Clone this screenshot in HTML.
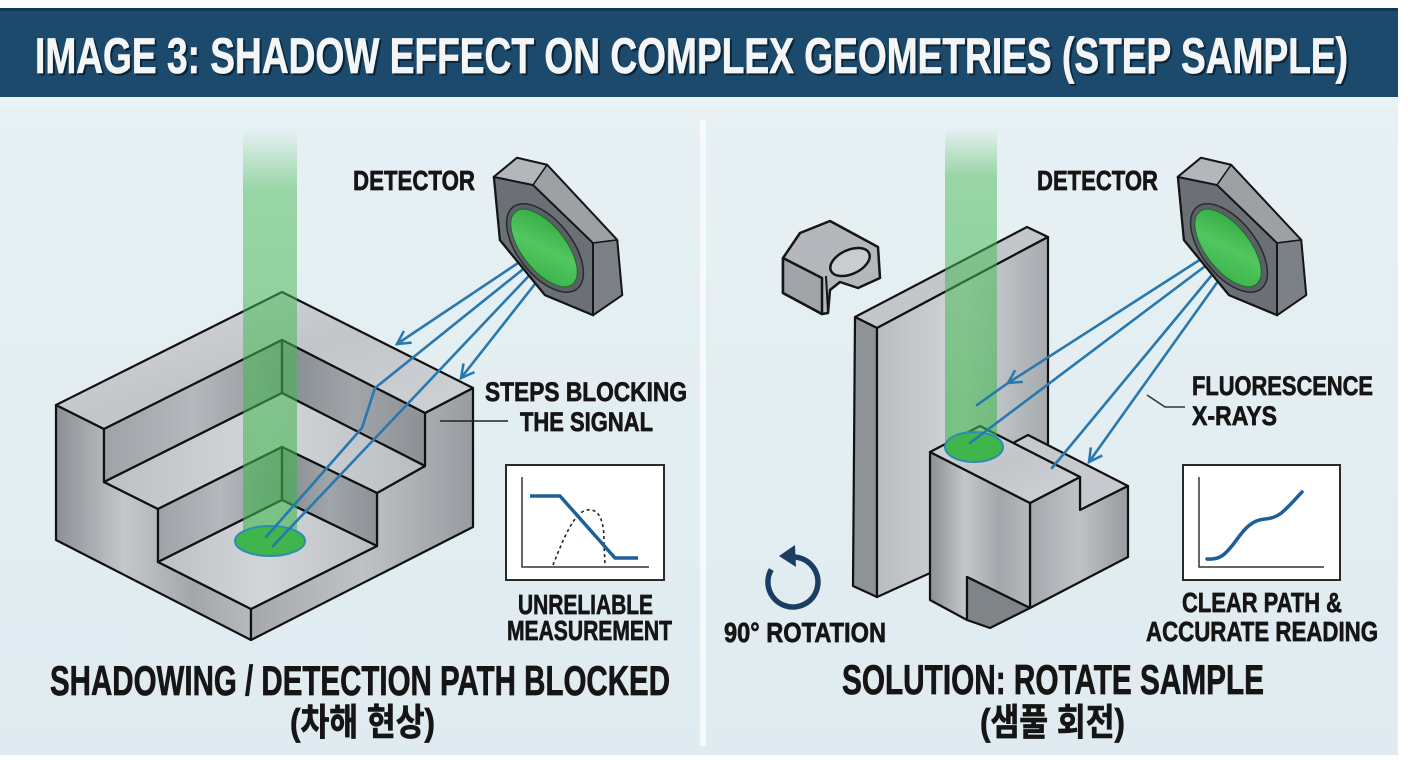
<!DOCTYPE html>
<html><head><meta charset="utf-8">
<style>
html,body{margin:0;padding:0;background:#fff;}
svg{display:block;}
.t{font-family:"Liberation Sans Narrow","Liberation Sans","Noto Sans CJK KR",sans-serif;font-weight:700;fill:#151515;stroke:#151515;stroke-width:0.7px;}
</style></head>
<body>
<svg width="1408" height="768" viewBox="0 0 1408 768" xmlns="http://www.w3.org/2000/svg">
<defs>
  <linearGradient id="panel" x1="0" y1="0" x2="0" y2="1">
    <stop offset="0" stop-color="#e7f1f4"/><stop offset="1" stop-color="#dfebf0"/>
  </linearGradient>
  <linearGradient id="beam" x1="0" y1="0" x2="0" y2="1">
    <stop offset="0" stop-color="#4cbb5a" stop-opacity="0"/>
    <stop offset="0.15" stop-color="#4cbb5a" stop-opacity="0.5"/>
    <stop offset="1" stop-color="#3cb44c" stop-opacity="0.6"/>
  </linearGradient>
  <linearGradient id="gTop" x1="0" y1="0" x2="1" y2="1">
    <stop offset="0" stop-color="#d6d9dc"/><stop offset="0.5" stop-color="#c2c6ca"/><stop offset="1" stop-color="#d0d3d6"/>
  </linearGradient>
  <linearGradient id="gWallL" x1="0" y1="0" x2="1" y2="0">
    <stop offset="0" stop-color="#9ea3a8"/><stop offset="0.5" stop-color="#b4b8bc"/><stop offset="1" stop-color="#92979c"/>
  </linearGradient>
  <linearGradient id="gWallR" x1="0" y1="0" x2="1" y2="0">
    <stop offset="0" stop-color="#868b90"/><stop offset="0.5" stop-color="#a0a5a9"/><stop offset="1" stop-color="#8c9196"/>
  </linearGradient>
  <linearGradient id="gFloor" x1="0" y1="0" x2="1" y2="0">
    <stop offset="0" stop-color="#bcc0c4"/><stop offset="0.5" stop-color="#d3d6d9"/><stop offset="1" stop-color="#b9bdc1"/>
  </linearGradient>
  <linearGradient id="gOutL" x1="0" y1="0" x2="1" y2="0">
    <stop offset="0" stop-color="#8b9095"/><stop offset="0.35" stop-color="#c4c7ca"/><stop offset="0.7" stop-color="#a3a7ab"/><stop offset="1" stop-color="#b6babd"/>
  </linearGradient>
  <linearGradient id="gOutR" x1="0" y1="0" x2="1" y2="0">
    <stop offset="0" stop-color="#a5a9ad"/><stop offset="0.5" stop-color="#bfc2c5"/><stop offset="1" stop-color="#979ca0"/>
  </linearGradient>
  <linearGradient id="gSlab" x1="0" y1="0" x2="1" y2="0">
    <stop offset="0" stop-color="#b9bdc1"/><stop offset="0.5" stop-color="#d2d5d8"/><stop offset="1" stop-color="#a5aaae"/>
  </linearGradient>
  <linearGradient id="gLens" x1="0" y1="0" x2="1" y2="1">
    <stop offset="0" stop-color="#2fa43f"/><stop offset="0.5" stop-color="#52c760"/><stop offset="1" stop-color="#36ae46"/>
  </linearGradient>
  <marker id="ah" markerWidth="18" markerHeight="18" refX="15" refY="9" orient="auto" markerUnits="userSpaceOnUse">
    <path d="M2,2 L15,9 L2,16" fill="none" stroke="#2878b0" stroke-width="2.5"/>
  </marker>
  <g id="det">
    <polygon points="494,177 517,158 547,165 617,240 622,295 593,315 545,295 500,240" fill="#8a9096" stroke="#151515" stroke-width="2.5" stroke-linejoin="round"/>
    <polygon points="494,177 517,158 547,165 533,185" fill="#b3b7bb" stroke="#151515" stroke-width="1.5"/>
    <polygon points="533,185 547,165 617,240 593,243" fill="#9ca1a6" stroke="#151515" stroke-width="1.5"/>
    <polygon points="593,243 617,240 622,295 593,315" fill="#7b8186" stroke="#151515" stroke-width="1.5"/>
    <polygon points="494,177 533,185 593,243 593,315 545,295 500,240" fill="#6a7075" stroke="#151515" stroke-width="2"/>
    <ellipse cx="545" cy="248" rx="52" ry="27" transform="rotate(52 545 248)" fill="#5a6065" stroke="#2a2a2a" stroke-width="1.5"/>
    <ellipse cx="544" cy="248" rx="46" ry="22" transform="rotate(52 544 248)" fill="url(#gLens)" stroke="#1f6b2a" stroke-width="1"/>
  </g>
</defs>

<!-- backgrounds -->
<rect x="0" y="0" width="1408" height="768" fill="#ffffff"/>
<rect x="0" y="97" width="1398" height="658" fill="url(#panel)"/>
<rect x="0" y="97" width="1398" height="10" fill="#eaf3f6"/>
<rect x="0" y="8" width="1398" height="89" fill="#1c4a6c"/>
<rect x="0" y="8" width="1398" height="3" fill="#123853"/>
<text class="t" x="37" y="75" font-size="50" textLength="1313" lengthAdjust="spacingAndGlyphs" style="fill:#0b2538;stroke:#0b2538">IMAGE 3: SHADOW EFFECT ON COMPLEX GEOMETRIES (STEP SAMPLE)</text>
<text class="t" x="35" y="73" font-size="50" textLength="1313" lengthAdjust="spacingAndGlyphs" style="fill:#f3f5f7;stroke:#f3f5f7">IMAGE 3: SHADOW EFFECT ON COMPLEX GEOMETRIES (STEP SAMPLE)</text>

<!-- divider -->
<rect x="700" y="120" width="6" height="626" fill="#f7fafb"/>

<!-- ========== LEFT PANEL ========== -->
<g stroke="#111" stroke-width="2.2" stroke-linejoin="round">
  <polygon points="56,405 104,429 104,482 158,509 158,562 251,609 251,640 56,540" fill="url(#gOutL)"/>
  <polygon points="473,388 473,527 251,640 251,609 377,546 377,493 425,466 425,413" fill="url(#gOutR)"/>
  <polygon points="56,405 282,292 473,388 425,413 282,340 104,429" fill="url(#gTop)"/>
  <polygon points="104,429 282,340 282,393 104,482" fill="url(#gWallL)"/>
  <polygon points="282,340 425,413 425,466 282,393" fill="url(#gWallR)"/>
  <polygon points="104,482 282,393 425,466 377,493 282,447 158,509" fill="url(#gFloor)"/>
  <polygon points="158,509 282,447 282,500 158,562" fill="url(#gWallL)"/>
  <polygon points="282,447 377,493 377,546 282,500" fill="url(#gWallR)"/>
  <polygon points="158,562 282,500 377,546 251,609" fill="url(#gFloor)"/>
</g>
<!-- beam left -->
<rect x="243" y="128" width="54" height="413" fill="url(#beam)"/>
<ellipse cx="270" cy="541" rx="35" ry="15" fill="#3fb54c" stroke="#2a8db5" stroke-width="2"/>

<!-- rays left -->
<g fill="none" stroke="#2878b0" stroke-width="2.6" stroke-linecap="round" stroke-linejoin="round">
  <path d="M533,253 L397,344" marker-end="url(#ah)"/>
  <path d="M537,258 L375,388 L362,428 L266,537"/>
  <path d="M541,263 L273,546"/>
  <path d="M546,270 L461,378" marker-end="url(#ah)"/>
</g>

<use href="#det"/>

<text class="t" x="353" y="190" font-size="28" textLength="122" lengthAdjust="spacingAndGlyphs">DETECTOR</text>
<text class="t" x="485" y="401" font-size="27" textLength="202" lengthAdjust="spacingAndGlyphs">STEPS BLOCKING</text>
<text class="t" x="520" y="431" font-size="27" textLength="133" lengthAdjust="spacingAndGlyphs">THE SIGNAL</text>
<line x1="440" y1="421" x2="508" y2="421" stroke="#222" stroke-width="1.6"/>

<!-- left chart -->
<rect x="506" y="465" width="158" height="115" fill="#ffffff" stroke="#2a2a2a" stroke-width="2"/>
<path d="M522,477 V567 H649" fill="none" stroke="#333" stroke-width="1.5"/>
<path d="M553,565 C563,540 574,512 587,510 C600,508 604,522 604,542 L605,566" fill="none" stroke="#222" stroke-width="1.6" stroke-dasharray="3,3"/>
<path d="M530,496 H560 L615,558 H638" fill="none" stroke="#1f5f99" stroke-width="3.5" stroke-linejoin="round"/>
<text class="t" x="518" y="614" font-size="28" textLength="135" lengthAdjust="spacingAndGlyphs">UNRELIABLE</text>
<text class="t" x="507" y="640" font-size="28" textLength="165" lengthAdjust="spacingAndGlyphs">MEASUREMENT</text>

<text class="t" x="50" y="695" font-size="42" textLength="620" lengthAdjust="spacingAndGlyphs">SHADOWING / DETECTION PATH BLOCKED</text>
<text class="t" x="290" y="735" font-size="37" textLength="145" lengthAdjust="spacingAndGlyphs">(차해 현상)</text>

<!-- ========== RIGHT PANEL ========== -->
<!-- holder icon -->
<g stroke="#151515" stroke-width="2.5" stroke-linejoin="round">
  <path d="M783,258 L800,233 L830,221 L878,247 L880,278 L858,288 L840,282 L830,290 L828,313 L822,314 L783,293 Z" fill="#b4b8bc"/>
  <path d="M783,258 L822,278 L822,314 L783,293 Z" fill="#a0a5a9"/>
  <ellipse cx="850" cy="262" rx="21" ry="12" transform="rotate(-25 850 262)" fill="#c9ccd0"/>
  <line x1="826" y1="276" x2="828" y2="312" stroke-width="2"/>
</g>

<!-- slab -->
<g stroke="#111" stroke-width="2.2" stroke-linejoin="round">
  <polygon points="855,317 1027,227 1048,237 877,328" fill="#c3c7cb"/>
  <polygon points="855,317 877,328 877,597 853,586" fill="#8e9398"/>
  <polygon points="877,328 1048,237 1048,520 877,597" fill="url(#gSlab)"/>
</g>
<!-- block -->
<g stroke="#111" stroke-width="2.2" stroke-linejoin="round">
  <polygon points="1080,477 1080,510 1128,486 1028,435 1013,443" fill="#c6c9cd"/>
  <polygon points="1030,503 1080,477 1080,510 1128,486 1128,557 1030,608" fill="url(#gOutR)"/>
  <polygon points="930,452 1030,503 1030,608 967,577 967,620 930,600" fill="url(#gOutL)"/>
  <polygon points="967,577 1030,608 990,628 967,620" fill="#7f8489"/>
  <polygon points="930,452 1030,503 1080,477 980,426" fill="url(#gTop)"/>
</g>
<!-- beam right -->
<rect x="945" y="128" width="52" height="318" fill="url(#beam)"/>
<ellipse cx="974" cy="447" rx="29" ry="15" fill="#3fb54c" stroke="#2a8db5" stroke-width="2"/>

<!-- rays right -->
<g fill="none" stroke="#2878b0" stroke-width="2.6" stroke-linecap="round" stroke-linejoin="round">
  <path d="M1212,252 L1008,383" marker-end="url(#ah)"/>
  <path d="M1008,383 L977,405"/>
  <path d="M1216,258 L970,443"/>
  <path d="M1221,264 L1052,468"/>
  <path d="M1226,270 L1089,462" marker-end="url(#ah)"/>
</g>

<use href="#det" transform="translate(684,0)"/>

<text class="t" x="1037" y="190" font-size="28" textLength="121" lengthAdjust="spacingAndGlyphs">DETECTOR</text>
<text class="t" x="1192" y="395" font-size="27" textLength="181" lengthAdjust="spacingAndGlyphs">FLUORESCENCE</text>
<text class="t" x="1192" y="425" font-size="27" textLength="85" lengthAdjust="spacingAndGlyphs">X-RAYS</text>
<path d="M1147,395 L1165,407 L1185,407" fill="none" stroke="#333" stroke-width="1.6"/>

<!-- rotation icon -->
<path d="M793,557 A25,25 0 1 1 771.3,569.5" fill="none" stroke="#1c3d63" stroke-width="5.5"/>
<polygon points="779,556 795,545 796,567" fill="#1c3d63"/>
<text class="t" x="724" y="642" font-size="28" textLength="162" lengthAdjust="spacingAndGlyphs">90° ROTATION</text>

<!-- right chart -->
<rect x="1183" y="465" width="157" height="115" fill="#ffffff" stroke="#2a2a2a" stroke-width="2"/>
<path d="M1199,477 V567 H1324" fill="none" stroke="#333" stroke-width="1.5"/>
<path d="M1207,559 C1220,560 1225,555 1235,542 C1245,528 1252,520 1265,519 C1280,518 1285,510 1302,492" fill="none" stroke="#1f5f99" stroke-width="3.5" stroke-linecap="round"/>
<text class="t" x="1182" y="612" font-size="28" textLength="160" lengthAdjust="spacingAndGlyphs">CLEAR PATH &amp;</text>
<text class="t" x="1146" y="641" font-size="28" textLength="232" lengthAdjust="spacingAndGlyphs">ACCURATE READING</text>

<text class="t" x="842" y="694" font-size="42" textLength="422" lengthAdjust="spacingAndGlyphs">SOLUTION: ROTATE SAMPLE</text>
<text class="t" x="980" y="735" font-size="37" textLength="145" lengthAdjust="spacingAndGlyphs">(샘풀 회전)</text>
</svg>
</body></html>
